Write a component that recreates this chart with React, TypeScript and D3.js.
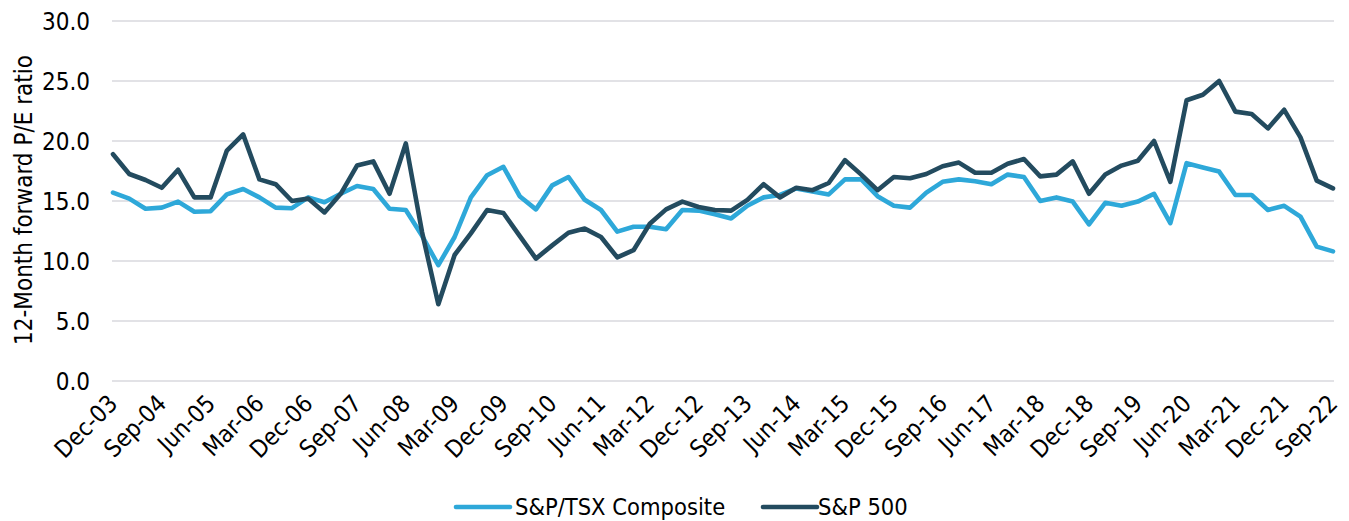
import React from "react";
import * as d3 from "d3";

const months = ["Mar", "Jun", "Sep", "Dec"];
const categories: string[] = [];
for (let y = 2003; y <= 2022; y++) {
  for (const m of months) {
    const key = `${m}-${String(y % 100).padStart(2, "0")}`;
    if (y === 2003 && m !== "Dec") continue;
    if (y === 2022 && m === "Dec") continue;
    categories.push(key);
  }
}

const tickLabels = [
  "Dec-03", "Sep-04", "Jun-05", "Mar-06", "Dec-06", "Sep-07", "Jun-08", "Mar-09",
  "Dec-09", "Sep-10", "Jun-11", "Mar-12", "Dec-12", "Sep-13", "Jun-14", "Mar-15",
  "Dec-15", "Sep-16", "Jun-17", "Mar-18", "Dec-18", "Sep-19", "Jun-20", "Mar-21",
  "Dec-21", "Sep-22",
];

const yTicks = [0, 5, 10, 15, 20, 25, 30];

const tsx = [
  15.7, 15.2, 14.35, 14.45, 14.95, 14.1, 14.15, 15.55, 16.0, 15.3,
  14.45, 14.4, 15.3, 14.9, 15.6, 16.25, 16.0, 14.35, 14.25, 12.1,
  9.65, 12.0, 15.3, 17.15, 17.85, 15.4, 14.3, 16.3, 17.0, 15.1,
  14.25, 12.45, 12.85, 12.85, 12.65, 14.25, 14.2, 13.9, 13.55, 14.6,
  15.3, 15.5, 16.05, 15.8, 15.55, 16.8, 16.8, 15.4, 14.6, 14.45,
  15.7, 16.6, 16.8, 16.65, 16.4, 17.2, 17.0, 15.0, 15.3, 14.95,
  13.05, 14.85, 14.6, 14.95, 15.6, 13.15, 18.15, 17.8, 17.45, 15.5,
  15.5, 14.25, 14.6, 13.7, 11.2, 10.8,
];

const sp500 = [
  18.9, 17.25, 16.75, 16.1, 17.6, 15.3, 15.3, 19.2, 20.55, 16.8,
  16.4, 15.0, 15.2, 14.05, 15.6, 17.95, 18.3, 15.6, 19.8, 12.4,
  6.4, 10.5, 12.3, 14.25, 14.0, 12.1, 10.2, 11.3, 12.35, 12.7,
  12.0, 10.3, 10.9, 13.1, 14.3, 14.95, 14.5, 14.25, 14.2, 15.1,
  16.4, 15.3, 16.1, 15.9, 16.5, 18.4, 17.2, 15.9, 17.0, 16.9,
  17.25, 17.9, 18.2, 17.35, 17.35, 18.1, 18.5, 17.05, 17.2, 18.3,
  15.6, 17.2, 17.95, 18.35, 20.0, 16.6, 23.4, 23.85, 25.0, 22.45,
  22.25, 21.05, 22.6, 20.3, 16.7, 16.05,
];

const series = [
  { name: "S&P/TSX Composite", values: tsx, color: "#2EA8D9" },
  { name: "S&P 500", values: sp500, color: "#234B5F" },
];

const W = 1349;
const H = 521;
const FONT = "'DejaVu Sans Condensed', 'DejaVu Sans', sans-serif";

export default function App() {
  const x = d3.scalePoint<string>().domain(categories).range([113, 1333]);
  const y = d3.scaleLinear().domain([0, 30]).range([381, 21]);
  const line = d3
    .line<number>()
    .x((_, i) => x(categories[i]) as number)
    .y((d) => y(d));

  const legendItems = [
    { ...series[0], lx: 456, tx: 515 },
    { ...series[1], lx: 763, tx: 818 },
  ];

  return (
    <svg
      width={W}
      height={H}
      style={{ position: "absolute", left: 0, top: 0, fontFamily: FONT }}
    >
      <rect width={W} height={H} fill="#fff" />
      {yTicks.map((t) => (
        <g key={t}>
          <line x1={112} x2={1334} y1={y(t)} y2={y(t)} stroke="#D9D9DE" strokeWidth={1.5} />
          <text x={90} y={y(t)} dy="0.36em" textAnchor="end" fontSize={24} fill="#000">
            {t.toFixed(1)}
          </text>
        </g>
      ))}
      <text
        transform={`translate(32,200) rotate(-90)`}
        textAnchor="middle"
        fontSize={24}
        fill="#000"
      >
        12-Month forward P/E ratio
      </text>
      {tickLabels.map((lab) => {
        const px = x(lab) as number;
        return (
          <text
            key={lab}
            transform={`translate(${px + 6},${405}) rotate(-45)`}
            textAnchor="end"
            fontSize={24}
            fill="#000"
          >
            {lab}
          </text>
        );
      })}
      {series.map((s) => (
        <path
          key={s.name}
          d={line(s.values) || ""}
          fill="none"
          stroke={s.color}
          strokeWidth={4.6}
          strokeLinejoin="round"
          strokeLinecap="round"
        />
      ))}
      {legendItems.map((s) => (
        <g key={s.name}>
          <line
            x1={s.lx}
            x2={s.lx + 54}
            y1={507}
            y2={507}
            stroke={s.color}
            strokeWidth={4.6}
            strokeLinecap="round"
          />
          <text x={s.tx} y={507} dy="0.36em" fontSize={23.5} fill="#000">
            {s.name}
          </text>
        </g>
      ))}
    </svg>
  );
}
